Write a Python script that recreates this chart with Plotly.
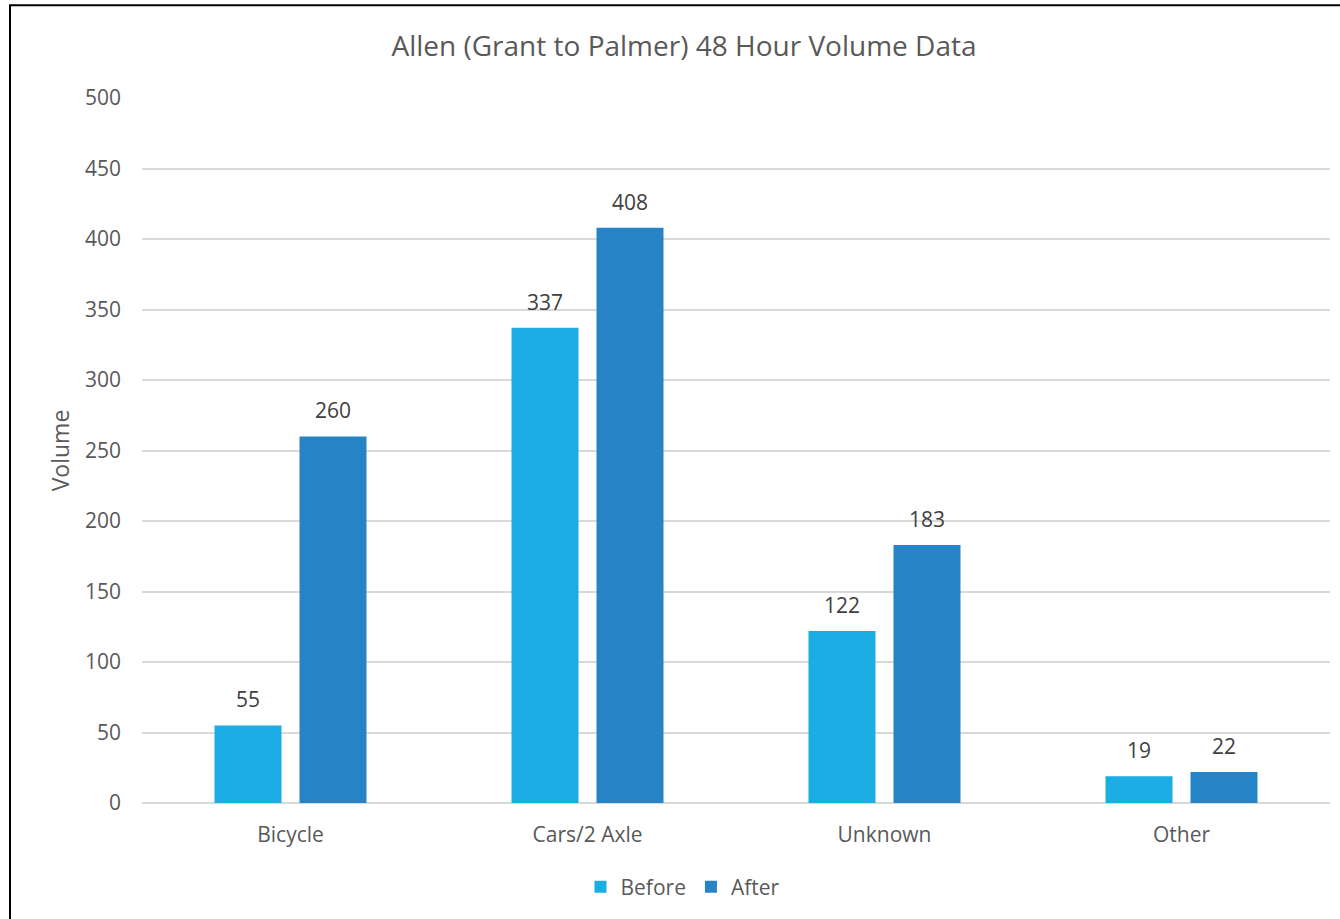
import plotly.graph_objects as go

categories = ["Bicycle", "Cars/2 Axle", "Unknown", "Other"]
before_values = [55, 337, 122, 19]
after_values = [260, 408, 183, 22]
series_names = ["Before", "After"]
y_ticks = [0, 50, 100, 150, 200, 250, 300, 350, 400, 450, 500]

W, H = 1340, 919
ML, MR, MT, MB = 142, 10, 98, 116
pw = W - ML - MR
ph = H - MT - MB

font_family = "Open Sans, Lato, sans-serif"
label_color = "#595959"
value_color = "#404040"

# bar geometry in category units
bar_w = 0.2256
half_gap = 0.0303
offsets = [-(bar_w + half_gap), half_gap]
colors = ["#1CADE4", "#2683C6"]

fig = go.Figure()
for name, vals, off, col in zip(series_names, [before_values, after_values], offsets, colors):
    fig.add_trace(go.Bar(
        x=categories, y=vals, name=name,
        width=bar_w, offset=off,
        marker=dict(color=col, line=dict(width=0)),
    ))
    for i, v in enumerate(vals):
        fig.add_annotation(
            x=i + off + bar_w / 2, y=v, xref="x", yref="y",
            text=str(v), showarrow=False, yanchor="middle", yshift=26,
            font=dict(color=value_color, size=21, family=font_family),
        )

def px2x(px):
    return (px - ML) / pw

def py2y(py):
    return (H - MB - py) / ph

fig.update_layout(
    width=W, height=H,
    margin=dict(l=ML, r=MR, t=MT, b=MB),
    paper_bgcolor="white", plot_bgcolor="white",
    barmode="overlay",
    font=dict(family=font_family, color=label_color, size=21),
    title=dict(text="Allen (Grant to Palmer) 48 Hour Volume Data",
               x=px2x(684), xref="paper", xanchor="center",
               y=1 - 46 / H, yanchor="middle",
               font=dict(size=28, color=label_color, family=font_family)),
    xaxis=dict(range=[-0.5, 3.5], showgrid=False, showline=False, ticks="",
               zeroline=False, tickfont=dict(size=21, color=label_color),
               ticklabelstandoff=17),
    yaxis=dict(range=[0, 500], tickvals=y_ticks, showgrid=True,
               gridcolor="#D9D9D9", gridwidth=1.5, zeroline=True,
               zerolinecolor="#D9D9D9", zerolinewidth=1.5, showline=False,
               ticks="", ticklabelstandoff=20,
               tickfont=dict(size=21, color=label_color),
               title=dict(text="Volume", font=dict(size=23, color=label_color),
                          standoff=8)),
    legend=dict(orientation="h", x=px2x(683), xanchor="center",
                y=py2y(887), yanchor="middle",
                font=dict(size=21, color=label_color),
                itemwidth=30, traceorder="normal"),
    showlegend=True,
)

fig.add_shape(type="rect", xref="paper", yref="paper",
              x0=px2x(10), x1=px2x(W + 20), y0=py2y(H + 20), y1=py2y(5.3),
              line=dict(color="black", width=2), fillcolor="rgba(0,0,0,0)",
              layer="above")

fig.write_html(
    "out.html",
    config={"displayModeBar": False},
    post_script="document.body.style.margin='0';document.body.style.padding='0';"
                "document.documentElement.style.overflow='hidden';",
)
